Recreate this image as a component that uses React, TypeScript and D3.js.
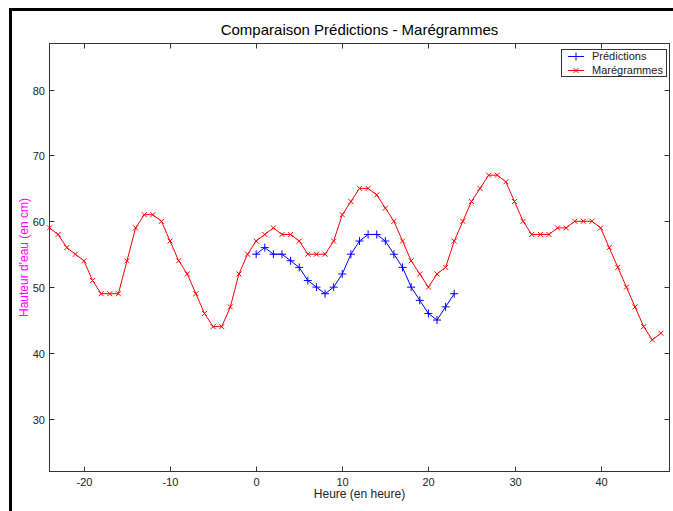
import React, { useEffect } from "react";
import * as d3 from "d3";

// Hourly water heights (cm)
const tideHours: number[] = d3.range(-24, 48);
const tideHeights: number[] = [
  59, 58, 56, 55, 54, 51, 49, 49, 49, 54, 59, 61, 61, 60, 57, 54, 52, 49, 46, 44, 44, 47, 52, 55,
  57, 58, 59, 58, 58, 57, 55, 55, 55, 57, 61, 63, 65, 65, 64, 62, 60, 57, 54, 52, 50, 52, 53, 57,
  60, 63, 65, 67, 67, 66, 63, 60, 58, 58, 58, 59, 59, 60, 60, 60, 59, 56, 53, 50, 47, 44, 42, 43,
];

const predHours: number[] = d3.range(0, 24);
const predHeights: number[] = [
  55, 56, 55, 55, 54, 53, 51, 50, 49, 50, 52, 55, 57, 58, 58, 57, 55, 53, 50, 48, 46, 45, 47, 49,
];

const xTicks: number[] = [-20, -10, 0, 10, 20, 30, 40];
const yTicks: number[] = [30, 40, 50, 60, 70, 80];

const W = 673;
const H = 511;
const FONT = "'Liberation Sans', Arial, sans-serif";

export default function App() {
  useEffect(() => {
    document.body.style.margin = "0";
    document.documentElement.style.overflow = "hidden";
    document.body.style.overflow = "hidden";
  }, []);

  const x = d3.scaleLinear().domain([-24, 48]).range([49.5, 669.5]);
  const y = d3.scaleLinear().domain([22, 87]).range([471.5, 43.5]);
  const [x0, x1] = x.range();
  const [y0, y1] = y.range();
  const tl = 5;
  const axisColor = "#333";

  const line = d3
    .line<[number, number]>()
    .x((d) => x(d[0]))
    .y((d) => y(d[1]));

  const tide: [number, number][] = tideHours.map((h, i) => [h, tideHeights[i]]);
  const pred: [number, number][] = predHours.map((h, i) => [h, predHeights[i]]);

  const cross = (cx: number, cy: number, r: number) =>
    `M${cx - r},${cy - r}L${cx + r},${cy + r}M${cx - r},${cy + r}L${cx + r},${cy - r}`;
  const plus = (cx: number, cy: number, r: number) =>
    `M${cx - r},${cy}L${cx + r},${cy}M${cx},${cy - r}L${cx},${cy + r}`;

  return (
    <div style={{ position: "fixed", left: 0, top: 0, width: W, height: H, overflow: "hidden" }}>
      <svg width={W} height={H} style={{ display: "block", background: "#fff" }} fontFamily={FONT}>
        {/* window frame */}
        <rect x={9} y={8} width={3} height={H - 8} fill="#000" />
        <rect x={9} y={8} width={W - 9} height={3} fill="#000" />

        <text x={(x0 + x1) / 2} y={35} textAnchor="middle" fontSize={15} fill="#000">
          Comparaison Prédictions - Marégrammes
        </text>

        {/* axes box */}
        <rect x={x0} y={y1} width={x1 - x0} height={y0 - y1} fill="none" stroke={axisColor} strokeWidth={1} />

        {xTicks.map((t) => {
          const px = Math.round(x(t)) + 0.5;
          return (
            <g key={`xt${t}`}>
              <line x1={px} x2={px} y1={y0} y2={y0 - tl} stroke={axisColor} />
              <line x1={px} x2={px} y1={y1} y2={y1 + tl} stroke={axisColor} />
              <text x={px} y={486} textAnchor="middle" fontSize={11} fill="#222">
                {t}
              </text>
            </g>
          );
        })}
        {yTicks.map((t) => {
          const py = Math.round(y(t)) + 0.5;
          return (
            <g key={`yt${t}`}>
              <line x1={x0} x2={x0 + tl} y1={py} y2={py} stroke={axisColor} />
              <line x1={x1} x2={x1 - tl} y1={py} y2={py} stroke={axisColor} />
              <text x={45} y={py + 4} textAnchor="end" fontSize={11} fill="#222">
                {t}
              </text>
            </g>
          );
        })}

        <text x={(x0 + x1) / 2} y={498} textAnchor="middle" fontSize={12} fill="#222">
          Heure (en heure)
        </text>
        <text
          transform={`translate(28,${(y0 + y1) / 2}) rotate(-90)`}
          textAnchor="middle"
          fontSize={12}
          fill="#ff00ff"
        >
          Hauteur d'eau (en cm)
        </text>

        {/* tide gauge series */}
        <path d={line(tide) || ""} fill="none" stroke="#ff0000" strokeWidth={1} />
        <path
          d={tide.map((d) => cross(x(d[0]), y(d[1]), 2.5)).join("")}
          fill="none"
          stroke="#ff0000"
          strokeWidth={1}
        />

        {/* prediction series */}
        <path d={line(pred) || ""} fill="none" stroke="#0000ff" strokeWidth={1} />
        <path
          d={pred.map((d) => plus(x(d[0]), y(d[1]), 4)).join("")}
          fill="none"
          stroke="#0000ff"
          strokeWidth={1}
        />

        {/* legend */}
        <rect x={561.5} y={49.5} width={105} height={27} fill="#fff" stroke={axisColor} />
        <line x1={568} x2={584} y1={56.5} y2={56.5} stroke="#0000ff" />
        <path d={plus(576, 56.5, 4)} stroke="#0000ff" fill="none" />
        <text x={592} y={60} fontSize={11} fill="#222">
          Prédictions
        </text>
        <line x1={568} x2={584} y1={70.5} y2={70.5} stroke="#ff0000" />
        <path d={cross(576, 70.5, 2.5)} stroke="#ff0000" fill="none" />
        <text x={592} y={74} fontSize={11} fill="#222">
          Marégrammes
        </text>
      </svg>
    </div>
  );
}
